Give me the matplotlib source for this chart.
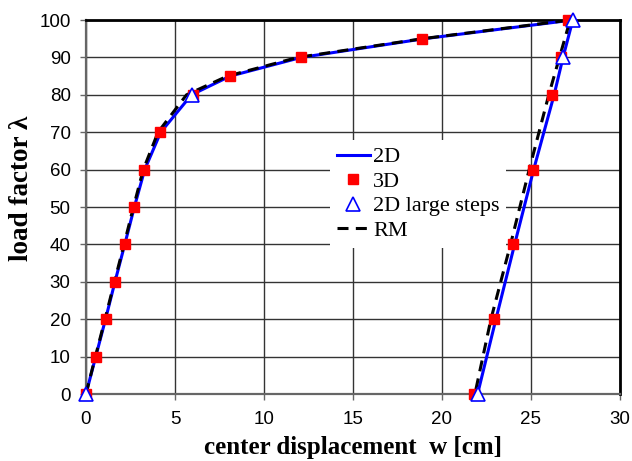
import matplotlib
matplotlib.use("Agg")
import matplotlib.pyplot as plt
from matplotlib.lines import Line2D

# load factor levels along the loading / unloading path
lam_2d = [0, 10, 20, 30, 40, 50, 60, 70, 80, 85, 90, 95, 100, 90, 80, 60, 40, 20, 0]
w_2d = [0, 0.55, 1.1, 1.63, 2.18, 2.72, 3.3, 4.2, 5.93, 8.1, 12.1, 19.0, 27.35,
        26.8, 26.3, 25.15, 24.08, 23.03, 22.0]

lam_3d = [0, 10, 20, 30, 40, 50, 60, 70, 80, 85, 90, 95, 100, 90, 80, 60, 40, 20, 0]
w_3d = [0, 0.55, 1.1, 1.63, 2.19, 2.7, 3.28, 4.16, 6.0, 8.1, 12.1, 18.9, 27.1,
        26.7, 26.2, 25.1, 24.0, 22.9, 21.8]

lam_large = [0, 80, 100, 90, 0]
w_large = [0, 5.93, 27.35, 26.8, 22.0]

lam_rm = [0, 10, 20, 30, 40, 50, 60, 70, 80, 85, 90, 95, 100, 90, 80, 60, 40, 20, 0]
w_rm = [0, 0.53, 1.07, 1.6, 2.14, 2.67, 3.22, 4.05, 5.65, 7.95, 11.9, 18.9, 27.2,
        26.6, 26.0, 24.9, 23.85, 22.75, 21.85]

x_ticks = [0, 5, 10, 15, 20, 25, 30]
y_ticks = [0, 10, 20, 30, 40, 50, 60, 70, 80, 90, 100]

RM_DASH = (0, (3.6, 2.4))

fig = plt.figure(figsize=(6.32, 4.61), dpi=100)
ax = fig.add_axes([0.136, 0.1453, 0.845, 0.8113])

ax.plot(w_2d, lam_2d, color="#0000ff", lw=2.2, solid_joinstyle="round", zorder=3)
ax.plot(w_rm, lam_rm, color="black", lw=2.2, linestyle=RM_DASH, zorder=4)
ax.plot(w_3d, lam_3d, linestyle="none", marker="s", markersize=7.5,
        markerfacecolor="#ff0000", markeredgecolor="#ff0000", zorder=5,
        clip_on=False)
ax.plot(w_large, lam_large, linestyle="none", marker="^", markersize=10,
        markerfacecolor="white", markeredgecolor="#0000ff", markeredgewidth=1.2,
        zorder=6, clip_on=False)

ax.set_xlim(0, 30)
ax.set_ylim(0, 100)
ax.set_xticks(x_ticks)
ax.set_yticks(y_ticks)
ax.grid(True, color="#333333", linewidth=1.0)
ax.set_axisbelow(True)

for side in ("top", "right"):
    ax.spines[side].set_color("black")
    ax.spines[side].set_linewidth(2.0)
for side in ("left", "bottom"):
    ax.spines[side].set_color("#666666")
    ax.spines[side].set_linewidth(1.6)

ax.tick_params(axis="both", direction="out", length=4, width=1.0, color="#666666",
               labelsize=13.5)
ax.tick_params(axis="y", pad=7)
ax.tick_params(axis="x", pad=8)
for lbl in ax.get_xticklabels() + ax.get_yticklabels():
    lbl.set_family("Liberation Sans")

ax.set_xlabel("center displacement  w [cm]", family="Liberation Serif",
              fontweight="bold", fontsize=18, labelpad=6)
ax.set_ylabel("load factor λ", family="Liberation Serif",
              fontweight="bold", fontsize=19.5, labelpad=4, y=0.55)

handles = [
    Line2D([], [], color="#0000ff", lw=2.2),
    Line2D([], [], linestyle="none", marker="s", markersize=7.5,
           markerfacecolor="#ff0000", markeredgecolor="#ff0000"),
    Line2D([], [], linestyle="none", marker="^", markersize=10,
           markerfacecolor="white", markeredgecolor="#0000ff", markeredgewidth=1.2),
    Line2D([], [], color="black", lw=2.2, linestyle=RM_DASH),
]
leg = ax.legend(handles, ["2D", "3D", "2D large steps", "RM"],
                loc="center", bbox_to_anchor=(0.622, 0.535),
                prop={"family": "Liberation Serif", "size": 16},
                frameon=True, fancybox=False, framealpha=1.0,
                handlelength=1.5, handletextpad=0.15, labelspacing=0.18,
                borderpad=0.3, borderaxespad=0.0)
leg.get_frame().set_edgecolor("none")
leg.get_frame().set_facecolor("white")
leg.set_zorder(2.5)

fig.savefig("out.png", dpi=100)
